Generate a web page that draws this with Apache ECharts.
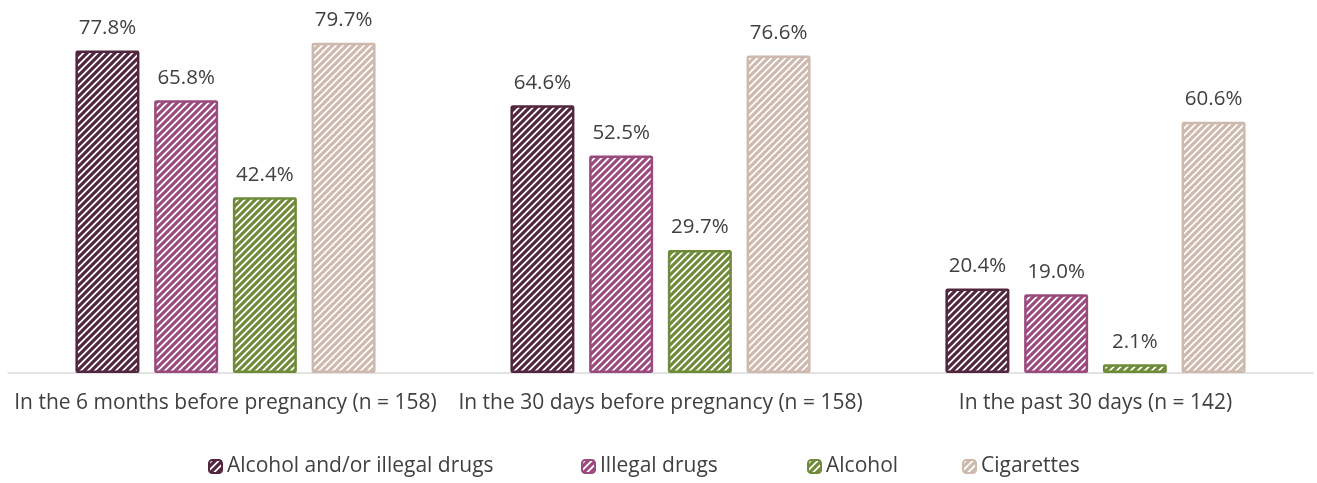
<!DOCTYPE html>
<html>
<head>
<meta charset="utf-8">
<script src="https://cdn.jsdelivr.net/npm/echarts@6/dist/echarts.min.js"></script>
<style>
  html, body { margin: 0; padding: 0; background: #fff; }
  #chart { width: 1317px; height: 483px; }
</style>
</head>
<body>
<div id="chart"></div>
<script>
// Substance use among respondents, by time period (%)
const categories = [
  'In the 6 months before pregnancy (n = 158)',
  'In the 30 days before pregnancy (n = 158)',
  'In the past 30 days (n = 142)'
];
const seriesNames = ['Alcohol and/or illegal drugs', 'Illegal drugs', 'Alcohol', 'Cigarettes'];
const alcoholOrDrugs = [77.8, 64.6, 20.4];
const illegalDrugs = [65.8, 52.5, 19.0];
const alcohol = [42.4, 29.7, 2.1];
const cigarettes = [79.7, 76.6, 60.6];
const seriesColors = ['#52263f', '#9b4a7e', '#6f8b3a', '#cdb9ad'];

// Wide upward-diagonal hatch tile in the given colour
function hatch(color) {
  const s = 7;
  const c = document.createElement('canvas');
  c.width = s; c.height = s;
  const g = c.getContext('2d');
  g.fillStyle = '#fff';
  g.fillRect(0, 0, s, s);
  g.strokeStyle = color;
  g.lineWidth = 3.1;
  g.beginPath();
  g.moveTo(-1, s + 1); g.lineTo(s + 1, -1);
  g.moveTo(-2, 2); g.lineTo(2, -2);
  g.moveTo(s - 2, s + 2); g.lineTo(s + 2, s - 2);
  g.stroke();
  return { image: c, repeat: 'repeat' };
}

const chart = echarts.init(document.getElementById('chart'));
const font = 'Open Sans, sans-serif';
const values = [alcoholOrDrugs, illegalDrugs, alcohol, cigarettes];
const legendLeft = [208, 581, 807, 962];

chart.setOption({
  animation: false,
  grid: { left: 8, right: 4, top: 0, bottom: 110 },
  legend: seriesNames.map((n, i) => ({
    data: [n],
    left: legendLeft[i],
    top: 456,
    padding: 0,
    itemWidth: 13,
    itemHeight: 13,
    itemGap: 0,
    textStyle: { fontFamily: font, fontSize: 21, color: '#404040' }
  })),
  xAxis: {
    type: 'category',
    data: categories,
    axisLine: { lineStyle: { color: '#d9d9d9', width: 1.5 } },
    axisTick: { show: false },
    axisLabel: { fontFamily: font, fontSize: 21, color: '#404040', margin: 20, interval: 0 }
  },
  yAxis: { type: 'value', min: 0, max: 90, show: false, splitLine: { show: false } },
  series: seriesNames.map((n, i) => ({
    name: n,
    type: 'bar',
    data: values[i],
    barWidth: 64,
    barGap: '23%',
    itemStyle: {
      color: hatch(seriesColors[i]),
      borderColor: seriesColors[i],
      borderWidth: 2.5,
      borderRadius: 1
    },
    label: {
      show: true,
      position: 'top',
      distance: 12,
      fontFamily: font,
      fontSize: 20.5,
      color: '#404040',
      formatter: p => p.value.toFixed(1) + '%'
    }
  }))
});
</script>
</body>
</html>
